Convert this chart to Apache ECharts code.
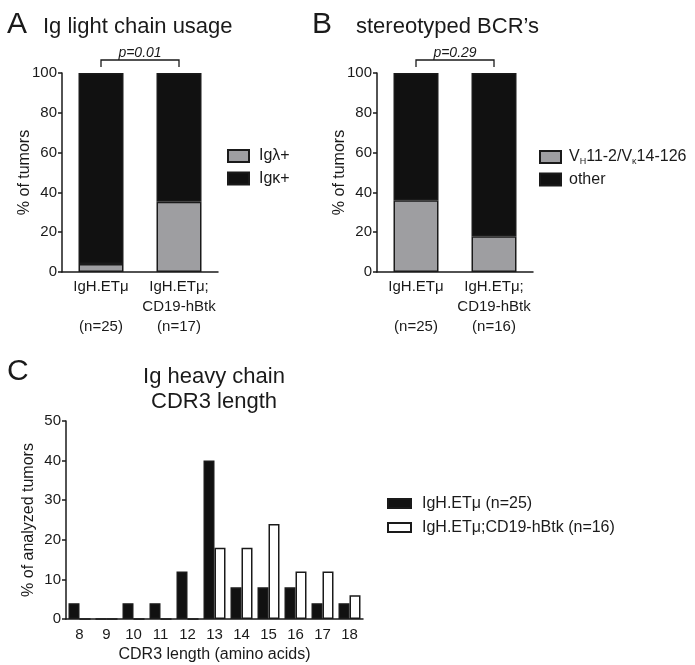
<!DOCTYPE html>
<html>
<head>
<meta charset="utf-8">
<script src="https://cdn.jsdelivr.net/npm/echarts@6/dist/echarts.min.js"></script>
<style>
html,body{margin:0;padding:0;background:#fff;}
#c{width:695px;height:665px;}
</style>
</head>
<body>
<div id="c"></div>
<script>
// ---- data ----
const catsA = ['IgH.ETμ\n\n(n=25)', 'IgH.ETμ;\nCD19-hBtk\n(n=17)'];
const lambdaA = [4, 35.3];
const kappaA = [96, 64.7];
const pA = 'p=0.01';

const catsB = ['IgH.ETμ\n\n(n=25)', 'IgH.ETμ;\nCD19-hBtk\n(n=16)'];
const stereoB = [36, 18];
const otherB = [64, 82];
const pB = 'p=0.29';

const catsC = ['8', '9', '10', '11', '12', '13', '14', '15', '16', '17', '18'];
const ctrlC = [4, 0, 4, 4, 12, 40, 8, 8, 8, 4, 4];
const btkC = [0, 0, 0, 0, 0, 18, 18, 24, 12, 12, 6];

const yTicksAB = [0, 20, 40, 60, 80, 100];
const yTicksC = [0, 10, 20, 30, 40, 50];

// ---- styles ----
const FONT = '"Liberation Sans", Arial, Helvetica, sans-serif';
const INK = '#1a1a1a';
const GRAY = '#9e9ea1';
const BLACK = '#111111';

const chart = echarts.init(document.getElementById('c'), null, {renderer: 'canvas'});

function catAxis(gridIndex, data, extra) {
  return Object.assign({
    type: 'category', gridIndex: gridIndex, data: data,
    axisLine: {lineStyle: {color: INK, width: 1.5}},
    axisTick: {alignWithLabel: true, length: 5, lineStyle: {color: INK, width: 1.5}},
    axisLabel: {color: INK, fontFamily: FONT, fontSize: 15, lineHeight: 20, margin: 5, interval: 0}
  }, extra || {});
}
function valAxis(gridIndex, ticks, name) {
  return {
    type: 'value', gridIndex: gridIndex,
    min: ticks[0], max: ticks[ticks.length - 1], interval: ticks[1] - ticks[0],
    name: name, nameLocation: 'middle', nameGap: 29, nameMoveOverlap: false,
    nameTextStyle: {color: INK, fontFamily: FONT, fontSize: 16},
    axisLine: {show: true, lineStyle: {color: INK, width: 1.5}},
    axisTick: {show: true, length: 4, lineStyle: {color: INK, width: 1.5}},
    axisLabel: {color: INK, fontFamily: FONT, fontSize: 15, margin: 5},
    splitLine: {show: false}
  };
}
const bordered = c => ({color: c, borderColor: INK, borderWidth: 1.5});

const legendText = {color: INK, fontFamily: FONT, fontSize: 16, lineHeight: 18};

const option = {
  animation: false,
  backgroundColor: '#fff',
  grid: [
    {left: 62, top: 73, width: 156, height: 199, outerBoundsMode: 'none'},
    {left: 377, top: 73, width: 156, height: 199, outerBoundsMode: 'none'},
    {left: 66, top: 421, width: 297, height: 198, outerBoundsMode: 'none'}
  ],
  xAxis: [
    catAxis(0, catsA),
    catAxis(1, catsB),
    catAxis(2, catsC, {
      name: 'CDR3 length (amino acids)', nameLocation: 'middle', nameGap: 28, nameMoveOverlap: false,
      nameTextStyle: {color: INK, fontFamily: FONT, fontSize: 16},
      axisLabel: {color: INK, fontFamily: FONT, fontSize: 15, margin: 8, interval: 0}
    })
  ],
  yAxis: [
    valAxis(0, yTicksAB, '% of tumors'),
    valAxis(1, yTicksAB, '% of tumors'),
    valAxis(2, yTicksC, '% of analyzed tumors')
  ],
  legend: [
    {data: ['Igλ+', 'Igκ+'], orient: 'vertical', left: 227, top: 147, padding: 0, icon: 'rect',
     itemWidth: 21, itemHeight: 12, itemGap: 4.5, selectedMode: false,
     textStyle: Object.assign({}, legendText, {padding: [0, 0, 0, 5]})},
    {data: ['VH11-2/Vκ14-126', 'other'], orient: 'vertical', left: 539, top: 147, padding: 0, icon: 'rect',
     itemWidth: 21, itemHeight: 12, itemGap: 4.5, selectedMode: false,
     formatter: function (n) {
       if (n === 'other') return '{n|other}';
       return '{n|V}{s|H}{n|11-2/V}{s|κ}{n|14-126}';
     },
     textStyle: Object.assign({}, legendText, {
       padding: [0, 0, 0, 3],
       rich: {
         n: {color: INK, fontFamily: FONT, fontSize: 16, lineHeight: 18},
         s: {color: INK, fontFamily: FONT, fontSize: 9, lineHeight: 9, verticalAlign: 'bottom', padding: [10, 0, 0, 0]}
       }
     })},
    {data: ['IgH.ETμ (n=25)', 'IgH.ETμ;CD19-hBtk (n=16)'], orient: 'vertical', left: 387, top: 494.5, padding: 0, icon: 'rect',
     itemWidth: 23, itemHeight: 9, itemGap: 6, selectedMode: false,
     textStyle: Object.assign({}, legendText, {padding: [0, 0, 0, 6]})}
  ],
  series: [
    {name: 'Igλ+', type: 'bar', xAxisIndex: 0, yAxisIndex: 0, stack: 'a', data: lambdaA,
     barWidth: 45, itemStyle: bordered(GRAY)},
    {name: 'Igκ+', type: 'bar', xAxisIndex: 0, yAxisIndex: 0, stack: 'a', data: kappaA,
     barWidth: 45, itemStyle: bordered(BLACK)},
    {name: 'VH11-2/Vκ14-126', type: 'bar', xAxisIndex: 1, yAxisIndex: 1, stack: 'b', data: stereoB,
     barWidth: 45, itemStyle: bordered(GRAY)},
    {name: 'other', type: 'bar', xAxisIndex: 1, yAxisIndex: 1, stack: 'b', data: otherB,
     barWidth: 45, itemStyle: bordered(BLACK)},
    {name: 'IgH.ETμ (n=25)', type: 'bar', xAxisIndex: 2, yAxisIndex: 2, data: ctrlC,
     barWidth: 11, barGap: '0%', itemStyle: bordered(BLACK)},
    {name: 'IgH.ETμ;CD19-hBtk (n=16)', type: 'bar', xAxisIndex: 2, yAxisIndex: 2, data: btkC,
     barWidth: 11, barGap: '0%', itemStyle: bordered('#ffffff')}
  ]
};
chart.setOption(option);

// ---- annotations: panel letters, titles, significance brackets ----
function bracket(xi, yi, cats, label) {
  const x1 = chart.convertToPixel({xAxisIndex: xi}, cats[0]);
  const x2 = chart.convertToPixel({xAxisIndex: xi}, cats[1]);
  const top = chart.convertToPixel({yAxisIndex: yi}, 100);
  const yb = top - 13;
  return [
    {type: 'polyline', shape: {points: [[x1, yb + 7], [x1, yb], [x2, yb], [x2, yb + 7]]},
     style: {stroke: INK, lineWidth: 1.3, fill: null}},
    {type: 'text', x: (x1 + x2) / 2, y: yb - 7,
     style: {text: label, fontFamily: FONT, fontSize: 14, fontStyle: 'italic', fill: INK, align: 'center', verticalAlign: 'middle'}}
  ];
}
const txt = (x, y, s, size, align) => ({type: 'text', x: x, y: y,
  style: {text: s, fontFamily: FONT, fontSize: size, fill: INK, align: align || 'left', verticalAlign: 'middle', lineHeight: 25}});

chart.setOption({
  graphic: [].concat(
    [txt(7, 25, 'A', 30), txt(43, 27, 'Ig light chain usage', 22),
     txt(312, 25, 'B', 30), txt(356, 27, "stereotyped BCR’s", 22),
     txt(7, 372, 'C', 30), txt(214, 389.5, 'Ig heavy chain\nCDR3 length', 22, 'center')],
    bracket(0, 0, catsA, pA),
    bracket(1, 1, catsB, pB)
  )
});
</script>
</body>
</html>
